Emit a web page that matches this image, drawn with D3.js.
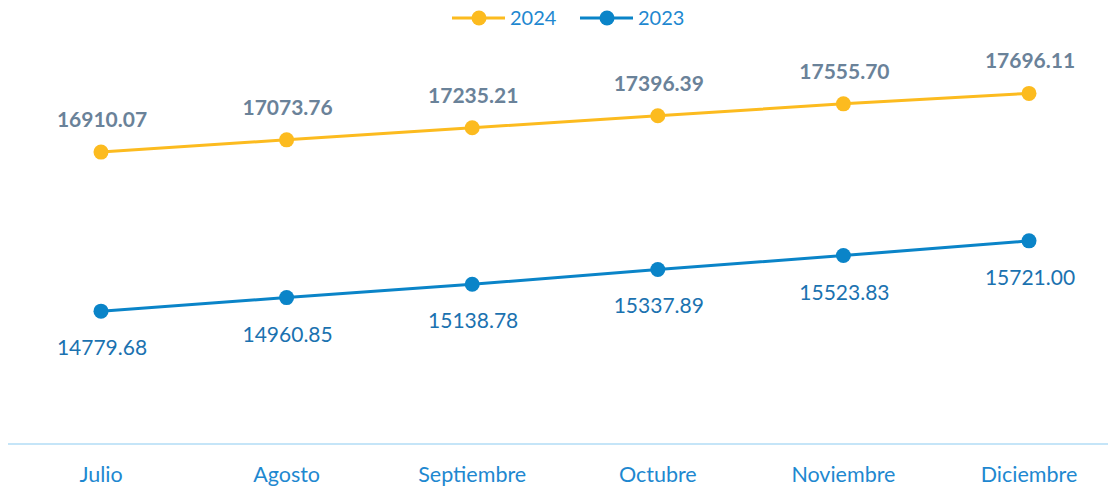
<script src="https://cdnjs.cloudflare.com/ajax/libs/d3/7.8.5/d3.min.js"></script>
<style>
  body { margin: 0; background: #fff; }
  svg { display: block; font-family: Lato, 'Noto Sans', sans-serif; }
</style>
<body>
<div id="chart"></div>
<script>
const months = ["Julio", "Agosto", "Septiembre", "Octubre", "Noviembre", "Diciembre"];
const values2024 = [16910.07, 17073.76, 17235.21, 17396.39, 17555.70, 17696.11];
const values2023 = [14779.68, 14960.85, 15138.78, 15337.89, 15523.83, 15721.00];
const seriesNames = ["2024", "2023"];

const width = 1110, height = 487;
const svg = d3.select("#chart").append("svg")
  .attr("width", width)
  .attr("height", height);

const x = d3.scalePoint().domain(months).range([101, 1029]);
const y = d3.scaleLinear().domain([13000, 18000]).range([444, 70.7]);

const series = [
  { name: seriesNames[0], values: values2024, color: "#fcbb1f", label: "#6a8299", weight: "bold", dy: -25 },
  { name: seriesNames[1], values: values2023, color: "#0a84c8", label: "#1b72b0", weight: "normal", dy: 44 }
];

// axis baseline
svg.append("line")
  .attr("x1", 8).attr("x2", 1108)
  .attr("y1", y(13000)).attr("y2", y(13000))
  .attr("stroke", "#c5e5f8")
  .attr("stroke-width", 2);

svg.selectAll(".month")
  .data(months)
  .enter().append("text")
  .attr("x", d => x(d))
  .attr("y", 482)
  .attr("text-anchor", "middle")
  .attr("fill", "#1e88d0")
  .attr("font-size", 21.5)
  .text(d => d);

const line = d3.line()
  .x((d, i) => x(months[i]))
  .y(d => y(d));

series.forEach(s => {
  svg.append("path")
    .attr("d", line(s.values))
    .attr("fill", "none")
    .attr("stroke", s.color)
    .attr("stroke-width", 3);

  svg.selectAll(null)
    .data(s.values)
    .enter().append("circle")
    .attr("cx", (d, i) => x(months[i]))
    .attr("cy", d => y(d))
    .attr("r", 7.5)
    .attr("fill", s.color);

  svg.selectAll(null)
    .data(s.values)
    .enter().append("text")
    .attr("x", (d, i) => x(months[i]) + 1)
    .attr("y", d => y(d) + s.dy)
    .attr("text-anchor", "middle")
    .attr("fill", s.label)
    .attr("font-weight", s.weight)
    .attr("font-size", 21)
    .text(d => d.toFixed(2));
});

// legend
const legendX = [452, 580];
series.forEach((s, i) => {
  const g = svg.append("g").attr("transform", `translate(${legendX[i]},18)`);
  g.append("line").attr("x1", 0).attr("x2", 53)
    .attr("stroke", s.color).attr("stroke-width", 3);
  g.append("circle").attr("cx", 27).attr("r", 7.5).attr("fill", s.color);
  g.append("text").attr("x", 58).attr("y", 7)
    .attr("fill", "#1e88d0").attr("font-size", 20)
    .text(s.name);
});
</script>
</body>
